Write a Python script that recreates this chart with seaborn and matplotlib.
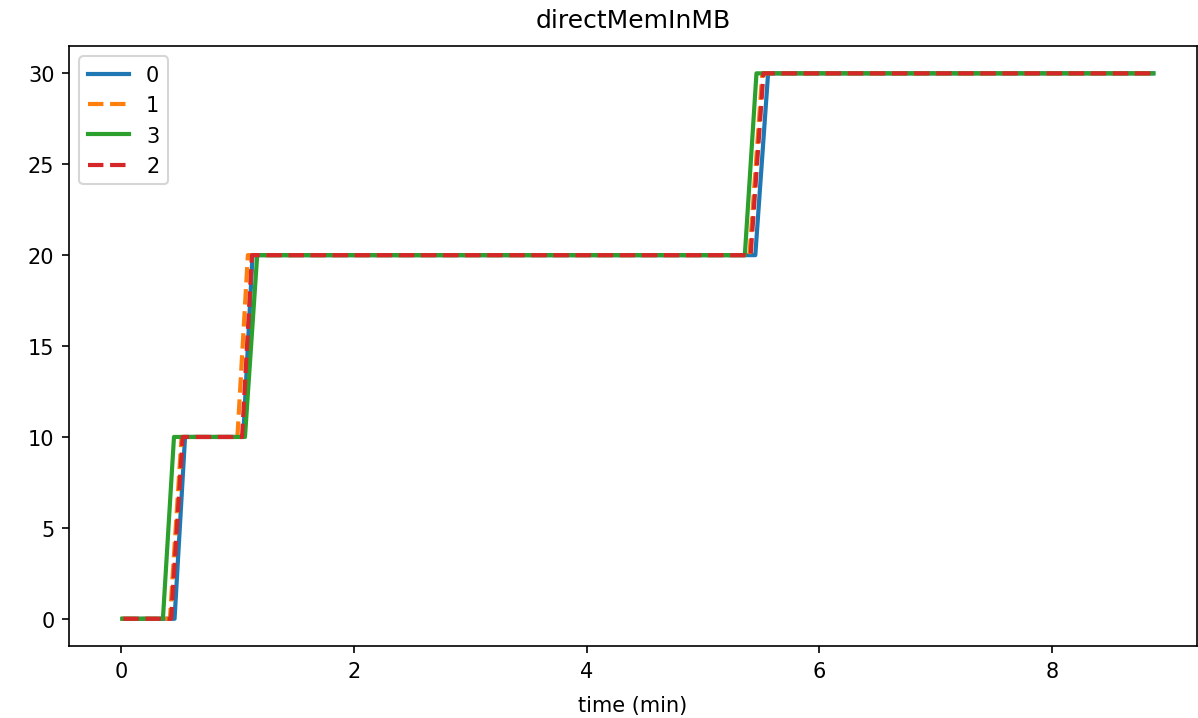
import pandas as pd
import matplotlib
matplotlib.use("Agg")
import matplotlib.pyplot as plt
import seaborn as sns

# step values shared by every worker
mem_mb = [0, 0, 10, 10, 20, 20, 30, 30]

# sample times (min) per worker
t_0 = [0.02, 0.46, 0.55, 1.05, 1.13, 5.45, 5.56, 8.87]
t_1 = [0.00, 0.42, 0.52, 1.00, 1.09, 5.40, 5.51, 8.86]
t_3 = [0.01, 0.36, 0.455, 1.065, 1.17, 5.36, 5.46, 8.87]
t_2 = [0.02, 0.43, 0.53, 1.04, 1.125, 5.41, 5.52, 8.87]

workers = ["0", "1", "3", "2"]
times = {"0": t_0, "1": t_1, "3": t_3, "2": t_2}

rows = []
for w in workers:
    for t, v in zip(times[w], mem_mb):
        rows.append({"time (min)": t, "directMemInMB": v, "worker": w})
df = pd.DataFrame(rows)

# -----------------------------
# Line plot
# -----------------------------
fig, ax = plt.subplots(figsize=(7.987, 4.793), dpi=150)
sns.lineplot(
    data=df, x="time (min)", y="directMemInMB",
    hue="worker", style="worker",
    hue_order=workers, style_order=workers,
    palette=["tab:blue", "tab:orange", "tab:green", "tab:red"],
    dashes={"0": "", "1": (3.7, 1.6), "3": "", "2": (3.7, 1.6)},
    linewidth=2, ax=ax,
)
handles, labels = ax.get_legend_handles_labels()
ax.legend(handles, labels, loc="upper left")
ax.set_title("directMemInMB", pad=9)
ax.set_xlabel("time (min)", labelpad=7)
ax.set_ylabel("")
ax.set_xlim(-0.447, 9.244)
ax.set_yticks([0, 5, 10, 15, 20, 25, 30])
fig.subplots_adjust(left=0.0576, right=0.999, top=0.9346, bottom=0.1001)
plt.savefig("out.png", dpi=150)
